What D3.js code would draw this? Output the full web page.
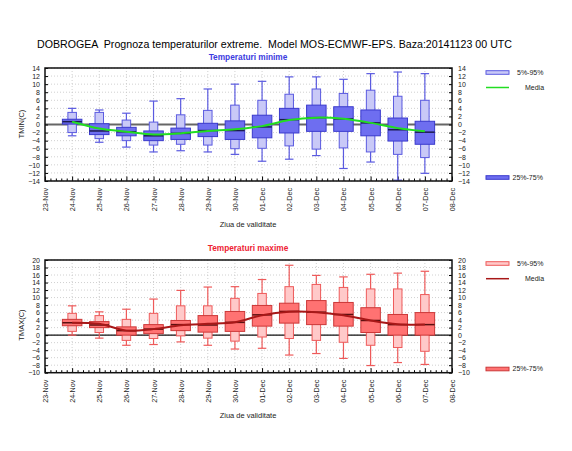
<!DOCTYPE html>
<html lang="ro">
<head>
    <meta charset="UTF-8">
    <title>DOBROGEA - Prognoza temperaturilor extreme</title>
    <script src="https://d3js.org/d3.v7.min.js"></script>
    <style>
        body { margin: 0; background: #fff; }
        text { font-family: "Liberation Sans", Arial, sans-serif; }
    </style>
</head>
<body>
<svg id="chart"></svg>

<script>
    // etichete axa X (zile)
    var dayLabels = ["23-Nov", "24-Nov", "25-Nov", "26-Nov", "27-Nov", "28-Nov", "29-Nov", "30-Nov",
        "01-Dec", "02-Dec", "03-Dec", "04-Dec", "05-Dec", "06-Dec", "07-Dec", "08-Dec"];
    // zilele cu prognoza (24-Nov .. 07-Dec)
    var boxDays = ["24-Nov", "25-Nov", "26-Nov", "27-Nov", "28-Nov", "29-Nov", "30-Nov",
        "01-Dec", "02-Dec", "03-Dec", "04-Dec", "05-Dec", "06-Dec", "07-Dec"];

    // temperaturi minime
    var tminMax = [4.0, 3.6, 2.8, 5.8, 6.4, 8.8, 10.0, 10.7, 11.8, 11.8, 11.2, 12.6, 13.0, 12.6];
    var tminP95 = [3.0, 3.0, 1.1, 0.6, 2.4, 3.5, 4.8, 6.0, 7.5, 8.8, 7.7, 8.5, 7.0, 6.0];
    var tminP75 = [1.3, 0.2, -0.7, -1.6, -0.9, 0.3, 0.9, 2.3, 4.0, 4.8, 4.4, 3.6, 1.6, 0.8];
    var tminMed = [0.7, -1.6, -1.8, -2.8, -2.2, -1.5, -1.5, -0.6, 1.2, 1.7, 1.4, 0.4, -1.3, -1.9];
    var tminP25 = [0.1, -2.5, -2.8, -4.0, -3.7, -3.0, -3.7, -3.3, -2.1, -1.7, -1.7, -2.8, -4.1, -4.9];
    var tminP05 = [-2.0, -3.5, -4.0, -5.1, -4.9, -5.1, -6.0, -5.9, -5.3, -6.1, -5.8, -6.8, -7.4, -8.2];
    var tminMin = [-2.8, -4.4, -5.6, -6.8, -6.5, -6.8, -7.4, -9.1, -8.6, -7.7, -10.9, -9.3, -13.8, -12.1];
    var tminMean = [0.7, -1.0, -1.8, -2.5, -2.2, -1.6, -1.2, -0.4, 1.1, 1.7, 1.4, 0.4, -0.9, -1.7];

    // temperaturi maxime
    var tmaxMax = [7.8, 6.2, 6.9, 9.6, 11.9, 12.8, 12.9, 14.8, 18.6, 15.9, 15.5, 16.2, 16.5, 17.0];
    var tmaxP95 = [5.8, 5.2, 4.2, 5.8, 7.8, 7.8, 9.8, 11.1, 12.9, 13.5, 12.7, 12.3, 12.3, 10.8];
    var tmaxP75 = [4.2, 3.6, 2.2, 2.8, 3.9, 5.2, 6.3, 7.9, 8.5, 9.2, 8.7, 7.3, 5.5, 6.0];
    var tmaxMed = [3.3, 2.7, 1.2, 1.6, 2.8, 2.7, 3.4, 5.4, 6.3, 6.1, 5.5, 3.9, 2.8, 2.8];
    var tmaxP25 = [2.5, 2.0, 0.0, 0.4, 1.2, 0.8, 1.0, 2.4, 3.2, 2.8, 2.4, 0.7, 0.0, 0.0];
    var tmaxP05 = [1.0, 0.7, -1.4, -0.9, -0.2, -0.8, -1.6, -0.5, -0.9, -1.4, -1.9, -2.7, -3.3, -4.3];
    var tmaxMin = [0.0, -0.8, -2.7, -2.5, -1.8, -2.7, -3.7, -3.5, -5.3, -4.9, -6.2, -8.1, -7.3, -7.8];
    var tmaxMean = [3.3, 3.0, 1.2, 1.6, 2.6, 3.0, 3.4, 5.3, 6.2, 6.1, 5.3, 3.9, 2.9, 2.8];

    // ticks axa Y
    var tminTicks = d3.range(-14, 15, 2);
    var tmaxTicks = d3.range(-10, 21, 2);

    (function() {

        var width = 572;
        var height = 451;

        var svg = d3.select("#chart")
            .attr("width", width)
            .attr("height", height);

        // titlu (latimea ca in original)
        svg.append("text")
            .attr("x", 37)
            .attr("y", 48)
            .attr("font-size", 10.6)
            .attr("fill", "#000")
            .attr("xml:space", "preserve")
            .attr("textLength", 475)
            .attr("lengthAdjust", "spacingAndGlyphs")
            .text("DOBROGEA  Prognoza temperaturilor extreme.  Model MOS-ECMWF-EPS. Baza:20141123 00 UTC");

        drawPanel({
            top: 68, bottom: 181,
            domain: [-14, 14], ticks: tminTicks,
            subtitle: "Temperaturi minime", subtitleColor: "#3b3be0", subtitleY: 60,
            yTitle: "TMIN(C)", yTitleY: 124,
            min: tminMin, p05: tminP05, p25: tminP25, med: tminMed, p75: tminP75, p95: tminP95, max: tminMax, mean: tminMean,
            outerFill: "#c9c9f7", outerStroke: "#5a5ae0",
            innerFill: "#6e6ef0", innerStroke: "#3a3acc",
            medColor: "#1c1c50", meanColor: "#22dd22",
            zeroColor: "#666", zeroWidth: 2,
            legendY: [72.5, 87.5, 177.5], xTitleY: 227
        });

        drawPanel({
            top: 260, bottom: 372.7,
            domain: [-10, 20], ticks: tmaxTicks,
            subtitle: "Temperaturi maxime", subtitleColor: "#ee2233", subtitleY: 251,
            yTitle: "TMAX(C)", yTitleY: 325,
            min: tmaxMin, p05: tmaxP05, p25: tmaxP25, med: tmaxMed, p75: tmaxP75, p95: tmaxP95, max: tmaxMax, mean: tmaxMean,
            outerFill: "#ffc9c9", outerStroke: "#ee5a5a",
            innerFill: "#ff7272", innerStroke: "#cc3838",
            medColor: "#5a1010", meanColor: "#a81818",
            zeroColor: "#111", zeroWidth: 1.2,
            legendY: [263.5, 278.7, 369], xTitleY: 418
        });

        function drawPanel(c) {
            var left = 45, right = 452;

            var x = d3.scaleLinear().domain([0, dayLabels.length - 1]).range([left, right]);
            var y = d3.scaleLinear().domain(c.domain).range([c.bottom, c.top]);

            var g = svg.append("g");

            // subtitlu
            g.append("text")
                .attr("x", 248).attr("y", c.subtitleY)
                .attr("text-anchor", "middle")
                .attr("font-size", 8.3)
                .attr("font-weight", "bold")
                .attr("fill", c.subtitleColor)
                .text(c.subtitle);

            // grid punctat
            g.append("g").selectAll("line.h")
                .data(c.ticks)
                .enter().append("line")
                .attr("x1", left).attr("x2", right)
                .attr("y1", function(d) { return y(d); })
                .attr("y2", function(d) { return y(d); })
                .attr("stroke", "#c4c4c4").attr("stroke-width", 0.8)
                .attr("stroke-dasharray", "1,2");
            g.append("g").selectAll("line.v")
                .data(d3.range(1, dayLabels.length - 1))
                .enter().append("line")
                .attr("x1", function(d) { return x(d); })
                .attr("x2", function(d) { return x(d); })
                .attr("y1", c.top).attr("y2", c.bottom)
                .attr("stroke", "#c4c4c4").attr("stroke-width", 0.8)
                .attr("stroke-dasharray", "1,2");

            // linia de zero
            g.append("line")
                .attr("x1", left).attr("x2", right)
                .attr("y1", y(0)).attr("y2", y(0))
                .attr("stroke", c.zeroColor).attr("stroke-width", c.zeroWidth);

            // axe Y (stanga si dreapta), tick-uri spre interior
            var yLeft = d3.axisLeft(y).tickValues(c.ticks).tickSize(-3).tickPadding(5);
            var yRight = d3.axisRight(y).tickValues(c.ticks).tickSize(-3).tickPadding(6);
            var ga = g.append("g").attr("transform", "translate(" + left + ",0)").call(yLeft);
            var gb = g.append("g").attr("transform", "translate(" + right + ",0)").call(yRight);
            [ga, gb].forEach(function(a) {
                a.select(".domain").remove();
                a.selectAll("text").attr("font-size", 7).attr("fill", "#222");
                a.selectAll("line").attr("stroke", "#000");
            });

            // axa X: tick-uri majore (zile) si minore
            var minor = d3.range(0, (dayLabels.length - 1) * 5 + 1).map(function(d) { return d / 5; })
                .filter(function(d) { return d % 1 !== 0; });
            var gm = g.append("g").attr("transform", "translate(0," + c.bottom + ")")
                .call(d3.axisBottom(x).tickValues(minor).tickSize(-2.5).tickFormat(""));
            gm.select(".domain").remove();
            gm.selectAll("line").attr("stroke", "#000");

            var gx = g.append("g").attr("transform", "translate(0," + c.bottom + ")")
                .call(d3.axisBottom(x).tickValues(d3.range(0, dayLabels.length))
                    .tickSize(-4.5)
                    .tickFormat(function(d) { return dayLabels[d]; }));
            gx.select(".domain").remove();
            gx.selectAll("line").attr("stroke", "#000");
            gx.selectAll("text")
                .attr("font-size", 7.2)
                .attr("fill", "#222")
                .attr("text-anchor", "end")
                .attr("transform", "rotate(-90)")
                .attr("x", -7)
                .attr("y", 0)
                .attr("dy", "0.35em");

            // titluri axe
            g.append("text")
                .attr("transform", "translate(24," + c.yTitleY + ") rotate(-90)")
                .attr("text-anchor", "middle")
                .attr("font-size", 7.5)
                .attr("fill", "#222")
                .text(c.yTitle);
            g.append("text")
                .attr("x", 248).attr("y", c.xTitleY)
                .attr("text-anchor", "middle")
                .attr("font-size", 7.5)
                .attr("fill", "#222")
                .text("Ziua de validitate");

            // box-uri
            var outerW = 8.5, innerW = 19.5;
            var boxes = g.append("g").selectAll("g")
                .data(boxDays)
                .enter().append("g")
                .attr("transform", function(d) { return "translate(" + x(dayLabels.indexOf(d)) + ",0)"; });

            // mustati
            boxes.append("line")
                .attr("x1", 0).attr("x2", 0)
                .attr("y1", function(d, i) { return y(c.max[i]); })
                .attr("y2", function(d, i) { return y(c.min[i]); })
                .attr("stroke", c.outerStroke).attr("stroke-width", 1.2);
            boxes.append("line")
                .attr("x1", -outerW / 2).attr("x2", outerW / 2)
                .attr("y1", function(d, i) { return y(c.max[i]); })
                .attr("y2", function(d, i) { return y(c.max[i]); })
                .attr("stroke", c.outerStroke).attr("stroke-width", 1.2);
            boxes.append("line")
                .attr("x1", -outerW / 2).attr("x2", outerW / 2)
                .attr("y1", function(d, i) { return y(c.min[i]); })
                .attr("y2", function(d, i) { return y(c.min[i]); })
                .attr("stroke", c.outerStroke).attr("stroke-width", 1.2);

            // 5%-95%
            boxes.append("rect")
                .attr("x", -outerW / 2).attr("width", outerW)
                .attr("y", function(d, i) { return y(c.p95[i]); })
                .attr("height", function(d, i) { return y(c.p05[i]) - y(c.p95[i]); })
                .attr("fill", c.outerFill).attr("stroke", c.outerStroke).attr("stroke-width", 1);

            // 25%-75%
            boxes.append("rect")
                .attr("x", -innerW / 2).attr("width", innerW)
                .attr("y", function(d, i) { return y(c.p75[i]); })
                .attr("height", function(d, i) { return y(c.p25[i]) - y(c.p75[i]); })
                .attr("fill", c.innerFill).attr("stroke", c.innerStroke).attr("stroke-width", 1);

            // mediana
            boxes.append("line")
                .attr("x1", -innerW / 2).attr("x2", innerW / 2)
                .attr("y1", function(d, i) { return y(c.med[i]); })
                .attr("y2", function(d, i) { return y(c.med[i]); })
                .attr("stroke", c.medColor).attr("stroke-width", 1.5);

            // media (curba)
            var line = d3.line()
                .x(function(d, i) { return x(dayLabels.indexOf(boxDays[i])); })
                .y(function(d) { return y(d); })
                .curve(d3.curveCardinal.tension(0.2));
            g.append("path")
                .datum(c.mean)
                .attr("d", line)
                .attr("fill", "none")
                .attr("stroke", c.meanColor)
                .attr("stroke-width", 2);

            // chenar
            g.append("rect")
                .attr("x", left).attr("y", c.top)
                .attr("width", right - left).attr("height", c.bottom - c.top)
                .attr("fill", "none").attr("stroke", "#111").attr("stroke-width", 1.5);

            // legenda
            var lg = g.append("g");
            lg.append("rect")
                .attr("x", 486).attr("y", c.legendY[0] - 1.8).attr("width", 23).attr("height", 3.6)
                .attr("fill", c.outerFill).attr("stroke", c.outerStroke).attr("stroke-width", 1);
            lg.append("text")
                .attr("x", 517).attr("y", c.legendY[0] + 2.4)
                .attr("font-size", 7).attr("fill", "#222")
                .text("5%-95%");
            lg.append("line")
                .attr("x1", 486).attr("x2", 509)
                .attr("y1", c.legendY[1]).attr("y2", c.legendY[1])
                .attr("stroke", c.meanColor).attr("stroke-width", 1.5);
            lg.append("text")
                .attr("x", 525).attr("y", c.legendY[1] + 2.4)
                .attr("font-size", 7).attr("fill", "#222")
                .text("Media");
            lg.append("rect")
                .attr("x", 486).attr("y", c.legendY[2] - 1.8).attr("width", 23).attr("height", 3.6)
                .attr("fill", c.innerFill).attr("stroke", c.innerStroke).attr("stroke-width", 1);
            lg.append("text")
                .attr("x", 512.5).attr("y", c.legendY[2] + 2.4)
                .attr("font-size", 7).attr("fill", "#222")
                .text("25%-75%");
        }
    })();
</script>
</body>
</html>
